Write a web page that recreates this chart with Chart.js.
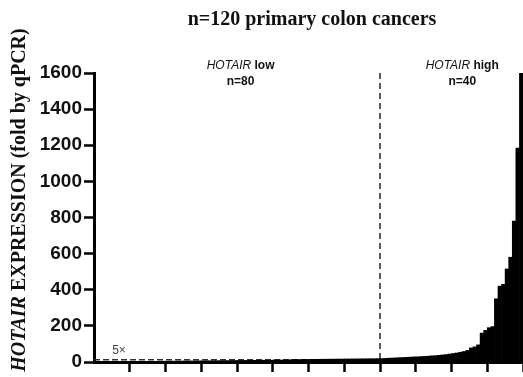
<!DOCTYPE html>
<html lang="en">
<head>
    <meta charset="UTF-8">
    <title>HOTAIR expression</title>
    <script src="https://cdn.jsdelivr.net/npm/chart.js"></script>
    <style>
        html, body {
            margin: 0;
            padding: 0;
            background: #fff;
        }

        .chart-container {
            width: 523px;
            height: 377px;
        }
    </style>
</head>
<body>
    <div class="chart-container">
        <canvas id="hotairChart"></canvas>
    </div>

    <script>
        // Tumours sorted by HOTAIR fold change (qPCR), 120 samples
        const lowGroup = [
            0.4, 0.6, 0.8, 1.0, 1.2, 1.4, 1.6, 1.8, 2.0, 2.2,
            2.4, 2.6, 2.8, 3.0, 3.2, 3.4, 3.6, 3.8, 4.0, 4.2,
            4.4, 4.6, 4.8, 5.0, 5.2, 5.4, 5.6, 5.8, 6.0, 6.2,
            6.4, 6.6, 6.8, 7.0, 7.2, 7.4, 7.6, 7.8, 8.0, 8.2,
            8.4, 8.6, 8.8, 9.0, 9.2, 9.4, 9.6, 9.8, 10, 10.2,
            10.5, 10.8, 11, 11.3, 11.6, 13, 13.3, 13.6, 13.9, 14.2,
            14.5, 14.8, 15, 15.2, 15.4, 15.6, 15.8, 16, 16.2, 16.4,
            16.6, 16.8, 17, 17.2, 17.4, 17.6, 17.8, 18, 18.3, 18.6
        ];
        const highGroup = [
            19, 20, 21, 22, 23, 24, 25, 26, 27, 28,
            29, 30, 31, 32, 34, 35, 37, 39, 41, 44,
            47, 50, 54, 58, 64, 78, 84, 95, 160, 175,
            190, 196, 350, 420, 430, 515, 580, 780, 1185, 1600
        ];
        const expression = lowGroup.concat(highGroup);
        const cutoffIndex = 80;       // boundary between low and high groups
        const foldThreshold = 13;     // the "5×" reference line
        const yTicks = [0, 200, 400, 600, 800, 1000, 1200, 1400, 1600];

        const points = expression.map((v, i) => ({ x: i + 0.5, y: v }));

        function drawParts(ctx, parts, x, y) {
            let total = 0;
            parts.forEach(p => { ctx.font = p.font; total += ctx.measureText(p.text).width; });
            let cx = x - total / 2;
            parts.forEach(p => {
                ctx.font = p.font;
                ctx.fillText(p.text, cx, y);
                cx += ctx.measureText(p.text).width;
            });
        }

        const annotations = {
            id: 'annotations',
            beforeDatasetsDraw(chart) {
                const ctx = chart.ctx;
                const xs = chart.scales.x, ys = chart.scales.y;
                ctx.save();
                // 5x threshold line
                ctx.strokeStyle = '#333';
                ctx.lineWidth = 1.5;
                ctx.setLineDash([6, 3]);
                ctx.beginPath();
                ctx.moveTo(xs.getPixelForValue(0), ys.getPixelForValue(foldThreshold));
                ctx.lineTo(xs.getPixelForValue(cutoffIndex), ys.getPixelForValue(foldThreshold));
                ctx.stroke();
                // low / high divider
                ctx.lineWidth = 1.6;
                ctx.setLineDash([6, 4]);
                ctx.beginPath();
                ctx.moveTo(xs.getPixelForValue(cutoffIndex), ys.getPixelForValue(1600));
                ctx.lineTo(xs.getPixelForValue(cutoffIndex), ys.getPixelForValue(0));
                ctx.stroke();
                ctx.restore();
            },
            afterDraw(chart) {
                const ctx = chart.ctx;
                const xs = chart.scales.x, ys = chart.scales.y;
                ctx.save();
                ctx.fillStyle = '#111';
                ctx.textBaseline = 'middle';

                // title
                drawParts(ctx, [{ text: 'n=120 primary colon cancers', font: 'bold 20px "Liberation Serif"' }], 312, 20);

                // group labels
                const lowX = xs.getPixelForValue(41);
                const highX = xs.getPixelForValue(103);
                drawParts(ctx, [
                    { text: 'HOTAIR', font: 'italic 12px "Liberation Sans"' },
                    { text: ' low', font: 'bold 12px "Liberation Sans"' }
                ], lowX, 66);
                drawParts(ctx, [{ text: 'n=80', font: 'bold 12px "Liberation Sans"' }], lowX, 82);
                drawParts(ctx, [
                    { text: 'HOTAIR', font: 'italic 12px "Liberation Sans"' },
                    { text: ' high', font: 'bold 12px "Liberation Sans"' }
                ], highX, 66);
                drawParts(ctx, [{ text: 'n=40', font: 'bold 12px "Liberation Sans"' }], highX, 82);

                // threshold label
                ctx.fillStyle = '#444';
                drawParts(ctx, [{ text: '5×', font: '12px "Liberation Sans"' }], xs.getPixelForValue(7), ys.getPixelForValue(foldThreshold) - 9);

                // y axis title
                ctx.fillStyle = '#111';
                ctx.translate(20, 200);
                ctx.rotate(-Math.PI / 2);
                drawParts(ctx, [
                    { text: 'HOTAIR', font: 'italic bold 20px "Liberation Serif"' },
                    { text: ' EXPRESSION (fold by qPCR)', font: 'bold 20px "Liberation Serif"' }
                ], 0, 0);
                ctx.restore();
            }
        };

        const ctx = document.getElementById('hotairChart').getContext('2d');
        new Chart(ctx, {
            type: 'bar',
            data: {
                datasets: [{
                    data: points,
                    backgroundColor: '#000',
                    borderWidth: 0,
                    barPercentage: 1,
                    categoryPercentage: 1
                }]
            },
            options: {
                responsive: true,
                maintainAspectRatio: false,
                animation: false,
                layout: { padding: { top: 73, left: 0, right: 0, bottom: 0 } },
                plugins: {
                    legend: { display: false },
                    tooltip: { enabled: false }
                },
                scales: {
                    x: {
                        type: 'linear',
                        min: 0,
                        max: 120,
                        offset: false,
                        ticks: { stepSize: 10, display: false },
                        grid: {
                            offset: false,
                            drawOnChartArea: false,
                            drawTicks: true,
                            tickLength: 10,
                            tickWidth: 2.5,
                            tickColor: c => (c.tick && c.tick.value === 0) ? 'rgba(0,0,0,0)' : '#000'
                        },
                        border: { color: '#000', width: 3 },
                        afterFit: s => { s.height = 15; }
                    },
                    y: {
                        min: 0,
                        max: 1600,
                        afterBuildTicks: s => { s.ticks = yTicks.map(v => ({ value: v })); },
                        ticks: {
                            color: '#111',
                            padding: 2,
                            font: { family: '"Liberation Sans"', size: 19, weight: 'bold' },
                            callback: v => String(v)
                        },
                        grid: {
                            drawOnChartArea: false,
                            tickLength: 10,
                            tickWidth: 2.5,
                            tickColor: '#000'
                        },
                        border: { color: '#000', width: 3 },
                        afterFit: s => { s.width = 94; }
                    }
                }
            },
            plugins: [annotations]
        });
    </script>
</body>
</html>
